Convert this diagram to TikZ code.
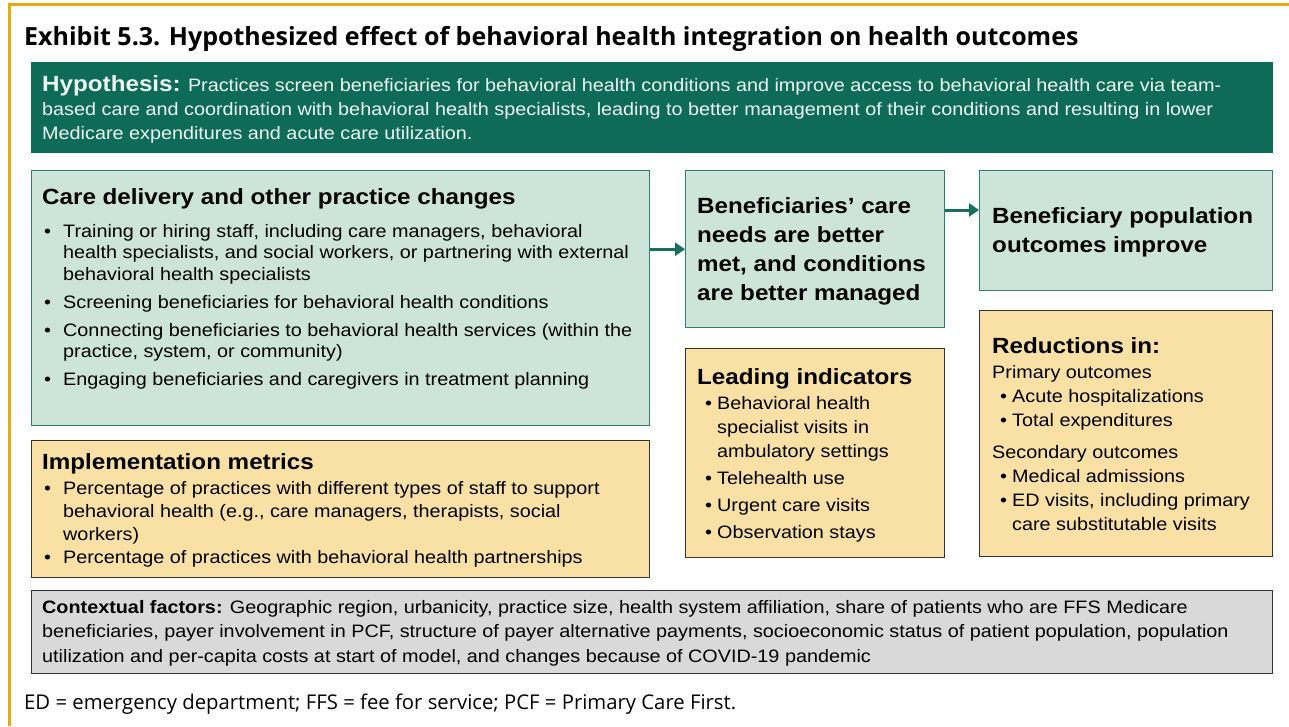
\documentclass[tikz,border=0pt]{standalone}
\usepackage{fontspec}
\setmainfont{Liberation Sans}[FakeStretch=1.1]
\newfontfamily\segoe{Open Sans}
\usetikzlibrary{arrows.meta}
\definecolor{gold}{HTML}{E8AA14}
\definecolor{hypgreen}{HTML}{0D6B58}
\definecolor{lgreen}{HTML}{CDE4D8}
\definecolor{gborder}{HTML}{2F7F6C}
\definecolor{lorange}{HTML}{F9E1A6}
\definecolor{lgray}{HTML}{D9D9D9}
\definecolor{dborder}{HTML}{333333}
\definecolor{hyptext}{HTML}{EEF6F2}
\definecolor{arrgreen}{HTML}{17705D}
\newcommand{\bul}{\makebox[19pt][l]{\textbullet}}
\newcommand{\ind}{\hspace*{19pt}}
\newcommand{\bulb}{\makebox[12pt][l]{\textbullet}}
\newcommand{\indb}{\hspace*{12pt}}
\newcommand{\bulr}{\hspace*{8pt}\makebox[12pt][l]{\textbullet}}
\newcommand{\indr}{\hspace*{20pt}}
\newcommand{\fs}[2]{\fontsize{#1}{#2}\selectfont}
\begin{document}
\begin{tikzpicture}[x=1pt,y=-1pt,
  box/.style={draw, line width=1.4pt, anchor=north west, inner sep=0pt},
  greenbox/.style={box, fill=lgreen, draw=gborder},
  orangebox/.style={box, fill=lorange, draw=dborder},
  txt/.style={anchor=north west, inner sep=0pt, align=left, text=black},
  head/.style={txt, font=\fs{22}{26}\bfseries},
  body/.style={txt, font=\fs{18}{#1}},
  arr/.style={draw=arrgreen, line width=3pt, -{Triangle[length=10pt,width=13pt]}}
]
\useasboundingbox (0,0) rectangle (1289,726);
\fill[white] (0,0) rectangle (1289,726);
\draw[gold, line width=3pt] (9.5,726) -- (9.5,4) -- (1289,4);

% title
\node[txt, font=\segoe\fs{25}{28}\bfseries] (title) at (24,{45-19.6})
  {\strut Exhibit 5.3. Hypothesized effect of behavioral health integration on health outcomes};

% hypothesis
\node[box, fill=hypgreen, draw=hypgreen, minimum width=1241pt, minimum height=90pt] (hyp) at (31,62) {};
\node[txt, text=hyptext, font=\fs{18}{24}] (hyptxt) at (42,{91-16.8})
  {\strut{\fs{22}{24}\bfseries Hypothesis:} Practices screen beneficiaries for behavioral health conditions and improve access to behavioral health care via team-\\
  based care and coordination with behavioral health specialists, leading to better management of their conditions and resulting in lower\\
  Medicare expenditures and acute care utilization.};

% care delivery
\node[greenbox, minimum width=618pt, minimum height=255pt] (care) at (31,170) {};
\node[head] (careh) at (42,{204-18.2}) {\strut Care delivery and other practice changes};
\node[body=21.5] (caret) at (44,{237-15.05})
  {\strut\bul Training or hiring staff, including care managers, behavioral\\
  \ind health specialists, and social workers, or partnering with external\\
  \ind behavioral health specialists\\[6.5pt]
  \bul Screening beneficiaries for behavioral health conditions\\[6.5pt]
  \bul Connecting beneficiaries to behavioral health services (within the\\
  \ind practice, system, or community)\\[6.5pt]
  \bul Engaging beneficiaries and caregivers in treatment planning};

% implementation metrics
\node[orangebox, minimum width=618pt, minimum height=137pt] (impl) at (31,440) {};
\node[head] (implh) at (42,{469-18.2}) {\strut Implementation metrics};
\node[body=23] (implt) at (44,{494-16.1})
  {\strut\bul Percentage of practices with different types of staff to support\\
  \ind behavioral health (e.g., care managers, therapists, social\\
  \ind workers)\\
  \bul Percentage of practices with behavioral health partnerships};

% beneficiaries care
\node[greenbox, minimum width=259pt, minimum height=157pt] (ben) at (685,170) {};
\node[txt, font=\fs{22}{29}\bfseries] (bent) at (697,{213-20.3})
  {\strut Beneficiaries’ care\\ needs are better\\ met, and conditions\\ are better managed};

% population
\node[greenbox, minimum width=293pt, minimum height=120pt] (pop) at (979,170) {};
\node[txt, font=\fs{22}{29}\bfseries] (popt) at (992,{223-20.3})
  {\strut Beneficiary population\\ outcomes improve};

% leading indicators
\node[orangebox, minimum width=259pt, minimum height=209pt] (lead) at (685,348) {};
\node[head] (leadh) at (697,{384-18.2}) {\strut Leading indicators};
\node[body=24] (leadt) at (705,{409-16.8})
  {\strut\bulb Behavioral health\\
  \indb specialist visits in\\
  \indb ambulatory settings\\[3pt]
  \bulb Telehealth use\\[3pt]
  \bulb Urgent care visits\\[3pt]
  \bulb Observation stays};

% reductions
\node[orangebox, minimum width=293pt, minimum height=246pt] (red) at (979,310) {};
\node[head] (redh) at (992,{353-18.2}) {\strut Reductions in:};
\node[body=24] (redt) at (992,{378-16.8})
  {\strut Primary outcomes\\
  \bulr Acute hospitalizations\\
  \bulr Total expenditures\\[8pt]
  Secondary outcomes\\
  \bulr Medical admissions\\
  \bulr ED visits, including primary\\
  \indr care substitutable visits};

% contextual
\node[box, fill=lgray, draw=dborder, minimum width=1241pt, minimum height=83pt] (ctx) at (31,590) {};
\node[body=24.5] (ctxt) at (42,{613-17.15})
  {\strut{\bfseries Contextual factors:} Geographic region, urbanicity, practice size, health system affiliation, share of patients who are FFS Medicare\\
  beneficiaries, payer involvement in PCF, structure of payer alternative payments, socioeconomic status of patient population, population\\
  utilization and per-capita costs at start of model, and changes because of COVID-19 pandemic};

% footnote
\node[txt, font=\segoe\fs{20.3}{24}] (foot) at (24,{709-16.8})
  {\strut ED = emergency department; FFS = fee for service; PCF = Primary Care First.};

% arrows
\draw[arr] (care.east |- ben.west) -- (ben.west);
\draw[arr] ([yshift=-40pt]ben.north east) coordinate (a1) -- (pop.west |- a1);
\end{tikzpicture}
\end{document}
